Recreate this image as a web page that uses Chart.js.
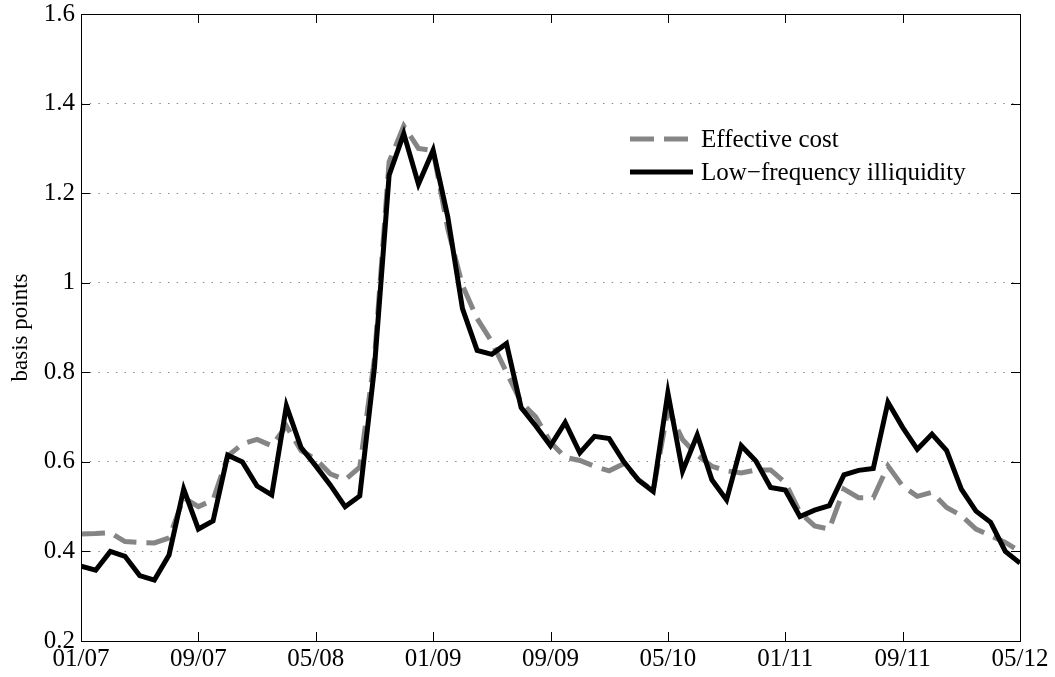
<!DOCTYPE html>
<html>
<head>
<meta charset="utf-8">
<script src="https://cdn.jsdelivr.net/npm/chart.js@4.4.1/dist/chart.umd.min.js"></script>
<style>
  html, body { margin: 0; padding: 0; background: #fff; }
  #wrap { width: 1055px; height: 677px; }
</style>
</head>
<body>
<div id="wrap"><canvas id="illiqChart" width="1055" height="677"></canvas></div>
<script>
// Mois (mm/aa), un point par mois
const months = [
  '01/07','02/07','03/07','04/07','05/07','06/07','07/07','08/07','09/07','10/07','11/07','12/07',
  '01/08','02/08','03/08','04/08','05/08','06/08','07/08','08/08','09/08','10/08','11/08','12/08',
  '01/09','02/09','03/09','04/09','05/09','06/09','07/09','08/09','09/09','10/09','11/09','12/09',
  '01/10','02/10','03/10','04/10','05/10','06/10','07/10','08/10','09/10','10/10','11/10','12/10',
  '01/11','02/11','03/11','04/11','05/11','06/11','07/11','08/11','09/11','10/11','11/11','12/11',
  '01/12','02/12','03/12','04/12','05/12'
];

// Séries
const effectiveCost = [
  0.439, 0.440, 0.442, 0.422, 0.420, 0.419, 0.430, 0.520, 0.500, 0.515, 0.613, 0.640,
  0.650, 0.636, 0.680, 0.625, 0.606, 0.573, 0.560, 0.588, 0.830, 1.270, 1.350, 1.300,
  1.295, 1.120, 0.994, 0.920, 0.868, 0.800, 0.733, 0.700, 0.644, 0.610, 0.603, 0.590,
  0.580, 0.596, 0.560, 0.535, 0.717, 0.650, 0.615, 0.590, 0.580, 0.575, 0.582, 0.582,
  0.554, 0.487, 0.457, 0.450, 0.539, 0.520, 0.520, 0.591, 0.546, 0.523, 0.532, 0.498,
  0.480, 0.450, 0.435, 0.420, 0.400
];
const lowFreqIlliquidity = [
  0.367, 0.358, 0.400, 0.389, 0.346, 0.336, 0.392, 0.539, 0.450, 0.468, 0.615, 0.600,
  0.546, 0.526, 0.725, 0.632, 0.591, 0.548, 0.500, 0.524, 0.810, 1.240, 1.333, 1.220,
  1.296, 1.147, 0.942, 0.849, 0.840, 0.864, 0.721, 0.680, 0.636, 0.688, 0.620, 0.657,
  0.652, 0.600, 0.559, 0.534, 0.754, 0.579, 0.660, 0.560, 0.515, 0.636, 0.602, 0.543,
  0.537, 0.478, 0.492, 0.502, 0.571, 0.581, 0.585, 0.733, 0.677, 0.628, 0.662, 0.625,
  0.539, 0.490, 0.465, 0.400, 0.374
];

// Étiquettes de l'axe x : une tous les 8 mois
const xTickStep = 8;
const yMin = 0.2, yMax = 1.6, yStep = 0.2;

const serif = '"Liberation Serif", "Times New Roman", serif';

const toPoints = arr => arr.map((v, i) => ({ x: i, y: v }));

// Cadre + graduations vers l'intérieur sur les 4 côtés
const frameTicks = {
  id: 'frameTicks',
  afterDraw(chart, args, opts) {
    const { ctx, chartArea: a, scales: { x, y } } = chart;
    const len = opts.length;
    ctx.save();
    ctx.strokeStyle = '#000';
    ctx.lineWidth = 1;
    ctx.beginPath();
    x.ticks.forEach(t => {
      const px = Math.round(x.getPixelForValue(t.value)) + 0.5;
      ctx.moveTo(px, a.bottom); ctx.lineTo(px, a.bottom - len);
      ctx.moveTo(px, a.top); ctx.lineTo(px, a.top + len);
    });
    y.ticks.forEach(t => {
      const py = Math.round(y.getPixelForValue(t.value)) + 0.5;
      ctx.moveTo(a.left, py); ctx.lineTo(a.left + len, py);
      ctx.moveTo(a.right, py); ctx.lineTo(a.right - len, py);
    });
    ctx.stroke();
    ctx.strokeRect(Math.round(a.left) + 0.5, Math.round(a.top) + 0.5,
      Math.round(a.right - a.left), Math.round(a.bottom - a.top));
    ctx.restore();
  }
};

// Légende dans la zone du graphique
const insideLegend = {
  id: 'insideLegend',
  afterDatasetsDraw(chart, args, opts) {
    const { ctx } = chart;
    ctx.save();
    ctx.font = `${opts.fontSize}px ${serif}`;
    ctx.textBaseline = 'middle';
    ctx.fillStyle = '#000';
    opts.items.forEach((idx, row) => {
      const ds = chart.data.datasets[idx];
      const yy = opts.y + row * opts.rowGap;
      ctx.strokeStyle = ds.borderColor;
      ctx.lineWidth = ds.borderWidth;
      ctx.setLineDash(ds.borderDash || []);
      ctx.beginPath();
      ctx.moveTo(opts.x, yy);
      ctx.lineTo(opts.x + opts.sample, yy);
      ctx.stroke();
      ctx.setLineDash([]);
      ctx.fillText(ds.label, opts.x + opts.sample + opts.gap, yy + 1);
    });
    ctx.restore();
  }
};

new Chart(document.getElementById('illiqChart'), {
  type: 'line',
  data: {
    datasets: [
      {
        label: 'Effective cost',
        data: toPoints(effectiveCost),
        borderColor: '#858585',
        borderWidth: 5,
        borderDash: [24, 10],
        borderCapStyle: 'butt',
        borderJoinStyle: 'miter',
        pointRadius: 0,
        tension: 0,
        order: 2
      },
      {
        label: 'Low\u2212frequency illiquidity',
        data: toPoints(lowFreqIlliquidity),
        borderColor: '#000',
        borderWidth: 5,
        borderJoinStyle: 'miter',
        pointRadius: 0,
        tension: 0,
        order: 1
      }
    ]
  },
  plugins: [frameTicks, insideLegend],
  options: {
    responsive: false,
    animation: false,
    layout: { padding: { left: 0, right: 35, top: 14, bottom: 0 } },
    plugins: {
      legend: { display: false },
      tooltip: { enabled: false },
      frameTicks: { length: 9 },
      insideLegend: { items: [0, 1], x: 630, y: 139, rowGap: 33, sample: 63, gap: 8, fontSize: 25 }
    },
    scales: {
      x: {
        type: 'linear',
        min: 0,
        max: months.length - 1,
        grid: { display: false, drawTicks: false },
        border: { display: false },
        ticks: {
          stepSize: xTickStep,
          padding: 3,
          maxRotation: 0,
          color: '#000',
          font: { family: serif, size: 25 },
          callback: v => months[v]
        },
        afterFit: s => { s.height = 36; s.paddingLeft = 0; s.paddingRight = 0; }
      },
      y: {
        min: yMin,
        max: yMax,
        grid: { color: '#8a8a8a', lineWidth: 1, drawTicks: false },
        border: { display: false, dash: [1.5, 7.2] },
        ticks: {
          stepSize: yStep,
          padding: 6,
          color: '#000',
          font: { family: serif, size: 25 },
          callback: v => String(+v.toFixed(1))
        },
        title: {
          display: true,
          text: 'basis points',
          color: '#000',
          font: { family: serif, size: 23 },
          padding: { top: 7, bottom: 0 }
        },
        afterFit: s => { s.width = 81; s.paddingTop = 0; s.paddingBottom = 0; }
      }
    }
  }
});
</script>
</body>
</html>
